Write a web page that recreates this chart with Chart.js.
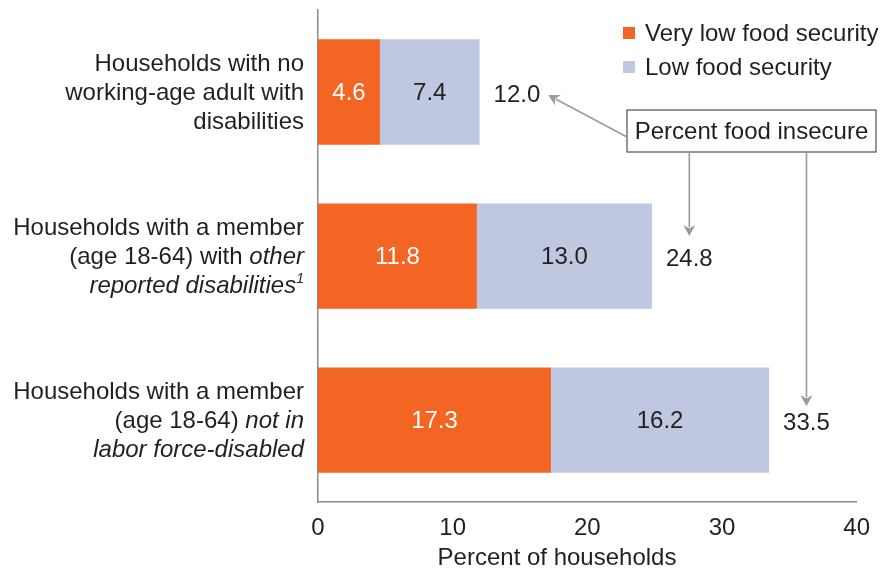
<!DOCTYPE html>
<html>
<head>
<meta charset="utf-8">
<script src="https://cdn.jsdelivr.net/npm/chart.js@4.4.1/dist/chart.umd.min.js"></script>
<style>
  html, body { margin: 0; padding: 0; background: #fff; }
  #wrap { width: 882px; height: 571px; position: relative; }
</style>
</head>
<body>
<div id="wrap"><canvas id="c" width="882" height="571"></canvas></div>
<script>
// ---- data ----
const categoryLabels = [
  ["Households with no", "working-age adult with", "disabilities"],
  ["Households with a member", "(age 18-64) with _other_", "_reported disabilities_^1"],
  ["Households with a member", "(age 18-64) _not in_", "_labor force-disabled_"]
];
const seriesNames = ["Very low food security", "Low food security"];
const veryLow = [4.6, 11.8, 17.3];
const low = [7.4, 13.0, 16.2];
const totals = [12.0, 24.8, 33.5];
const xTicks = [0, 10, 20, 30, 40];
const axisTitle = "Percent of households";
const calloutText = "Percent food insecure";

// ---- styles ----
const FONT = '"Liberation Sans", Arial, Helvetica, sans-serif';
const FS = 24;
const TXT = '#231F20';
const ORANGE = '#F26522';
const LAV = '#BFC7E1';
const ARROW = '#9B9B9B';

function parseSegments(line) {
  const segs = [];
  const re = /(_[^_]+_)|(\^\S+)|([^_^]+)/g;
  let m;
  while ((m = re.exec(line)) !== null) {
    if (m[1]) segs.push({ t: m[1].slice(1, -1), it: true, sup: false });
    else if (m[2]) segs.push({ t: m[2].slice(1), it: true, sup: true });
    else segs.push({ t: m[3], it: false, sup: false });
  }
  return segs;
}
function fontFor(s) {
  const size = s.sup ? 14 : FS;
  return (s.it ? 'italic ' : '') + size + 'px ' + FONT;
}

const labelsPlugin = {
  id: 'customText',
  afterDatasetsDraw(chart) {
    const ctx = chart.ctx;
    const ys = chart.scales.y;
    const xs = chart.scales.x;
    const area = chart.chartArea;
    ctx.save();
    // category labels
    const rightX = area.left - 14;
    const lh = 28.8;
    categoryLabels.forEach((lines, i) => {
      const cy = ys.getPixelForValue(i) + 1.5;
      lines.forEach((line, j) => {
        const y = cy + (j - (lines.length - 1) / 2) * lh;
        const segs = parseSegments(line);
        let w = 0;
        segs.forEach(s => { ctx.font = fontFor(s); s.w = ctx.measureText(s.t).width; w += s.w; });
        let x = rightX - w;
        ctx.textBaseline = 'middle';
        ctx.textAlign = 'left';
        ctx.fillStyle = TXT;
        segs.forEach(s => {
          ctx.font = fontFor(s);
          ctx.fillText(s.t, x, s.sup ? y - 7 : y);
          x += s.w;
        });
      });
    });

    // values inside bars
    ctx.font = FS + 'px ' + FONT;
    ctx.textAlign = 'center';
    ctx.textBaseline = 'middle';
    chart.data.datasets.forEach((ds, di) => {
      const meta = chart.getDatasetMeta(di);
      meta.data.forEach((el, i) => {
        const p = el.getProps(['x', 'y', 'base'], true);
        ctx.fillStyle = di === 0 ? '#ffffff' : TXT;
        ctx.fillText(ds.data[i].toFixed(1), (p.x + p.base) / 2, p.y + 1);
      });
    });

    // totals
    const totalPos = totals.map((t, i) => {
      ctx.font = FS + 'px ' + FONT;
      const txt = t.toFixed(1);
      const w = ctx.measureText(txt).width;
      const x = xs.getPixelForValue(t) + 14;
      const y = ys.getPixelForValue(i) + 3;
      ctx.fillStyle = TXT;
      ctx.textAlign = 'left';
      ctx.fillText(txt, x, y);
      return { x, y, w };
    });

    // callout box
    const bx = 627, by = 110, bw = 249, bh = 42;
    ctx.fillStyle = '#fff';
    ctx.fillRect(bx, by, bw, bh);
    ctx.strokeStyle = '#505050';
    ctx.lineWidth = 1.2;
    ctx.strokeRect(bx, by, bw, bh);
    ctx.fillStyle = TXT;
    ctx.textAlign = 'center';
    ctx.fillText(calloutText, bx + bw / 2, by + bh / 2 + 1);

    function arrow(x1, y1, x2, y2) {
      const ang = Math.atan2(y2 - y1, x2 - x1);
      const L = 11, W = 6;
      ctx.strokeStyle = ARROW;
      ctx.fillStyle = ARROW;
      ctx.lineWidth = 1.6;
      ctx.beginPath();
      ctx.moveTo(x1, y1);
      ctx.lineTo(x2 - Math.cos(ang) * L * 0.8, y2 - Math.sin(ang) * L * 0.8);
      ctx.stroke();
      ctx.beginPath();
      ctx.moveTo(x2, y2);
      ctx.lineTo(x2 - Math.cos(ang) * L - Math.sin(ang) * W, y2 - Math.sin(ang) * L + Math.cos(ang) * W);
      ctx.lineTo(x2 - Math.cos(ang) * L * 0.7, y2 - Math.sin(ang) * L * 0.7);
      ctx.lineTo(x2 - Math.cos(ang) * L + Math.sin(ang) * W, y2 - Math.sin(ang) * L - Math.cos(ang) * W);
      ctx.closePath();
      ctx.fill();
    }
    const t0 = totalPos[0], t1 = totalPos[1], t2 = totalPos[2];
    arrow(bx, by + 27, t0.x + t0.w + 8, t0.y);
    arrow(t1.x + t1.w / 2, by + bh, t1.x + t1.w / 2, t1.y - 23);
    arrow(t2.x + t2.w / 2, by + bh, t2.x + t2.w / 2, t2.y - 17);

    // legend
    const lx = 623;
    const lys = [33, 67];
    chart.data.datasets.forEach((ds, di) => {
      ctx.fillStyle = ds.backgroundColor;
      ctx.fillRect(lx, lys[di] - 6, 12, 12);
      ctx.fillStyle = TXT;
      ctx.textAlign = 'left';
      ctx.textBaseline = 'middle';
      ctx.font = FS + 'px ' + FONT;
      ctx.fillText(ds.label, lx + 22, lys[di] + 1);
    });

    // axis title
    ctx.fillStyle = TXT;
    ctx.textAlign = 'center';
    ctx.fillText(axisTitle, 557, 558);
    ctx.restore();
  }
};

new Chart(document.getElementById('c'), {
  type: 'bar',
  data: {
    labels: categoryLabels.map(l => l.join(' ')),
    datasets: [
      { label: seriesNames[0], data: veryLow, backgroundColor: ORANGE, borderWidth: 0 },
      { label: seriesNames[1], data: low, backgroundColor: LAV, borderWidth: 0 }
    ]
  },
  options: {
    indexAxis: 'y',
    responsive: false,
    animation: false,
    devicePixelRatio: 1,
    layout: { padding: { left: 318, top: 10, right: 24, bottom: 16 } },
    datasets: { bar: { barPercentage: 0.642, categoryPercentage: 1.0 } },
    plugins: { legend: { display: false }, tooltip: { enabled: false } },
    scales: {
      x: {
        type: 'linear', stacked: true, min: 0, max: 40,
        afterBuildTicks: (s) => { s.ticks = xTicks.map(v => ({ value: v })); },
        grid: { display: false, drawTicks: false },
        border: { display: true, color: '#8a8a8a', width: 1.5 },
        ticks: { color: TXT, font: { family: FONT, size: FS }, padding: 12, maxRotation: 0 }
      },
      y: {
        type: 'category', stacked: true,
        grid: { display: false, drawTicks: false },
        border: { display: true, color: '#8a8a8a', width: 1.5 },
        ticks: { display: false }
      }
    }
  },
  plugins: [labelsPlugin]
});
</script>
</body>
</html>
